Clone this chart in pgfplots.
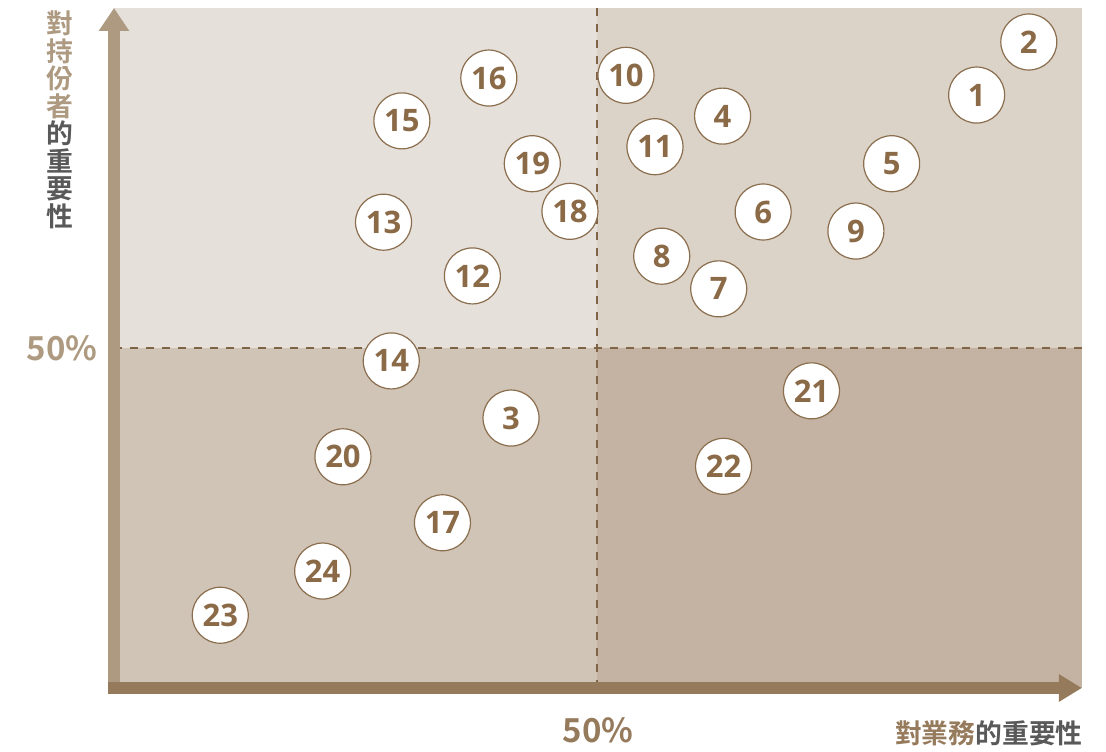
\documentclass[border=0pt]{standalone}
\usepackage{pgfplots}
\pgfplotsset{compat=1.18}
\usepackage{fontspec}
\setmainfont{Noto Sans CJK TC}[BoldFont={Noto Sans CJK TC Bold}]
\newfontfamily\numfont{Open Sans}
\usetikzlibrary{arrows.meta}

\definecolor{qtl}{HTML}{E6E0DA}
\definecolor{qtr}{HTML}{DBD2C8}
\definecolor{qbl}{HTML}{D0C4B7}
\definecolor{qbr}{HTML}{C4B3A2}
\definecolor{vbar}{HTML}{AD9A80}
\definecolor{hbar}{HTML}{957A5B}
\definecolor{dashc}{HTML}{7F6448}
\definecolor{ring}{HTML}{8B6E4E}
\definecolor{numc}{HTML}{8B6A47}
\definecolor{darkg}{HTML}{595959}

\pgfplotstableread{
x y label
89.3 87.2 1
94.7 95.0 2
41.1 39.7 3
63.0 84.1 4
80.5 77.1 5
67.2 70.0 6
62.6 58.7 7
56.7 63.5 8
76.8 67.2 9
53.0 90.1 10
56.0 79.6 11
37.1 60.6 12
27.9 68.5 13
28.7 48.1 14
29.8 83.4 15
38.8 89.7 16
34.0 24.3 17
47.2 70.1 18
43.3 77.1 19
23.7 34.0 20
72.2 43.7 21
63.1 32.6 22
11.0 10.7 23
21.6 17.2 24
}\stakeholders

\begin{document}
\begin{tikzpicture}
\useasboundingbox (0pt,0pt) rectangle (553pt,375.5pt);
\begin{axis}[
    at={(57pt,31.5pt)}, anchor=south west,
    scale only axis, width=483pt, height=340pt,
    xmin=0, xmax=100, ymin=0, ymax=100,
    hide axis, clip=false,
    ]
    % quadrants
    \fill[qtl] (axis cs:0,50) rectangle (axis cs:50,100);
    \fill[qtr] (axis cs:50,50) rectangle (axis cs:100.2,100);
    \fill[qbl] (axis cs:0,0) rectangle (axis cs:50,50);
    \fill[qbr] (axis cs:50,0) rectangle (axis cs:100.2,50);
    \draw[dashc, line width=1pt, dash pattern=on 4pt off 4pt] (axis cs:50,0) -- (axis cs:50,100);
    \draw[dashc, line width=1pt, dash pattern=on 4pt off 4pt] (axis cs:0,50) -- (axis cs:100.2,50);
    % arrows
    \draw[vbar, line width=6pt, -{Triangle[length=11.5pt,width=14.5pt]}] (axis cs:0,-0.75) -- (axis cs:0,100);
    \draw[hbar, line width=6pt, -{Triangle[length=11.5pt,width=13pt]}] (axis cs:-0.62,0) -- (axis cs:100.2,0);
    % stakeholders
    \addplot[only marks, mark=*, mark size=14pt,
        mark options={fill=white, draw=ring, line width=0.6pt},
        nodes near coords, point meta=explicit symbolic,
        every node near coord/.append style={anchor=center, text=numc,
            font=\numfont\fontsize{15.5}{17}\selectfont\bfseries}]
        table[x=x, y=y, meta=label] {\stakeholders};
\end{axis}
\begin{scope}[x=0.5pt,y=0.5pt]
\node[text=vbar, font=\fontsize{16.5}{18}\selectfont\bfseries] at (62,403) {50\%};
\node[text=hbar, font=\fontsize{16.5}{18}\selectfont\bfseries] at (598,21) {50\%};
\node[anchor=east, font=\fontsize{13.4}{15}\selectfont\bfseries, inner sep=0pt] at (1083,18)
    {\textcolor{hbar}{對業務}\textcolor{darkg}{的重要性}};
\node[align=center, inner sep=0pt, font=\fontsize{13.4}{13.75}\selectfont\bfseries] at (60,631)
    {\textcolor{vbar}{對}\\\textcolor{vbar}{持}\\\textcolor{vbar}{份}\\\textcolor{vbar}{者}\\
     \textcolor{darkg}{的}\\\textcolor{darkg}{重}\\\textcolor{darkg}{要}\\\textcolor{darkg}{性}};
\end{scope}
\end{tikzpicture}
\end{document}
